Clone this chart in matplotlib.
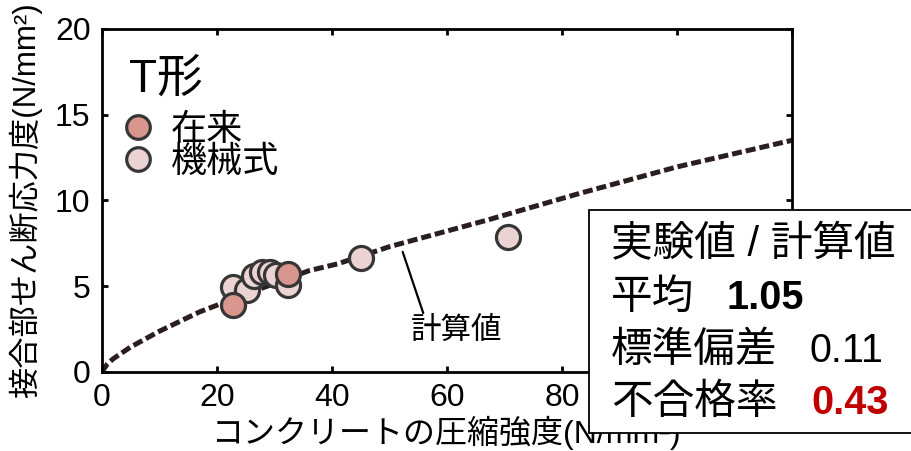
import matplotlib
matplotlib.use("Agg")
import matplotlib.pyplot as plt
from matplotlib.lines import Line2D
from matplotlib.patches import Rectangle

plt.rcParams['font.family'] = ['Liberation Sans', 'Noto Sans CJK JP']

# ---- data ----
# 計算値カーブ (圧縮強度 vs せん断応力度)
calc_x = [0, 1, 2, 5, 10, 17, 25, 36, 41, 50, 67, 83, 100, 120]
calc_y = [0, 0.47, 0.77, 1.45, 2.37, 3.5, 4.53, 5.9, 6.3, 7.3, 8.85, 10.4, 11.95, 13.5]

# 在来
zairai_x = [22.9, 32.3]
zairai_y = [3.9, 5.73]

# 機械式
kikai_x = [22.9, 25.2, 26.4, 27.8, 29.2, 30.3, 32.4, 45.1, 70.6]
kikai_y = [4.95, 4.75, 5.6, 5.85, 5.8, 5.65, 5.05, 6.62, 7.85]

stat_labels = ["平均", "標準偏差", "不合格率"]
stat_values = ["1.05", "0.11", "0.43"]

# ---- figure ----
fig = plt.figure(figsize=(9.12, 4.51), dpi=100)
ax = fig.add_axes([0.1115, 0.1752, 0.7572, 0.7612])

ax.plot(calc_x, calc_y, color="#2b1e1e", lw=3.6, dashes=(2.0, 0.8),
        solid_capstyle="butt", zorder=2)

edge = "#363636"
ax.scatter(kikai_x, kikai_y, s=300, c="#ecd3d3", edgecolors=edge,
           linewidths=2.3, zorder=3)
ax.scatter(zairai_x, zairai_y, s=300, c="#d9968f", edgecolors=edge,
           linewidths=2.3, zorder=4)

ax.set_xlim(0, 120)
ax.set_ylim(0, 20)
ax.set_xticks([0, 20, 40, 60, 80, 100, 120])
ax.set_yticks([0, 5, 10, 15, 20])
ax.tick_params(direction="in", length=4, width=2, labelsize=23, pad=8,
               top=True, right=True)
for s in ax.spines.values():
    s.set_linewidth(2)

ax.set_xlabel("コンクリートの圧縮強度(N/mm²)", fontsize=23, labelpad=2)
ax.set_ylabel("接合部せん断応力度(N/mm²)", fontsize=22.5, labelpad=9)

# 計算値のラベル
ax.annotate("計算値", xy=(52.3, 7.0), xytext=(61.6, 2.4),
            ha="center", va="center", fontsize=22,
            arrowprops=dict(arrowstyle="-", lw=1.6, color="black",
                            relpos=(0.15, 1.0), shrinkA=0, shrinkB=0))

# 凡例
ax.text(0.039, 0.852, "T形", transform=ax.transAxes, fontsize=33, va="center")
handles = [
    Line2D([], [], ls="none", marker="o", ms=17, mfc="#d9968f", mec=edge, mew=2.3),
    Line2D([], [], ls="none", marker="o", ms=17, mfc="#ecd3d3", mec=edge, mew=2.3),
]
ax.legend(handles, ["在来", "機械式"], loc="upper left",
          bbox_to_anchor=(0.032, 0.755), frameon=False, fontsize=26,
          handletextpad=0.5, labelspacing=-0.08, borderpad=0,
          borderaxespad=0.0, handlelength=0.8)

# 統計ボックス
fig.add_artist(Rectangle((589 / 912, 1 - 433 / 451), 0.5, (433 - 210) / 451,
                         transform=fig.transFigure, facecolor="white",
                         edgecolor="black", lw=1.3, zorder=10, clip_on=False))

def fx(px):
    return px / 912

def fy(py):
    return 1 - py / 451

fig.text(fx(611), fy(245), "実験値 / 計算値", fontsize=30, va="center", zorder=11)
rows_y = [298, 351, 403]
value_x = [727, 810, 811]
value_style = [("black", "bold"), ("black", "normal"), ("#c00000", "bold")]
for lab, val, y, vx, (col, wt) in zip(stat_labels, stat_values, rows_y,
                                      value_x, value_style):
    fig.text(fx(611), fy(y), lab, fontsize=30, va="center", zorder=11)
    fig.text(fx(vx), fy(y), val, fontsize=28.5, va="center", color=col,
             fontweight=wt, zorder=11)

fig.savefig("out.png", dpi=100)
